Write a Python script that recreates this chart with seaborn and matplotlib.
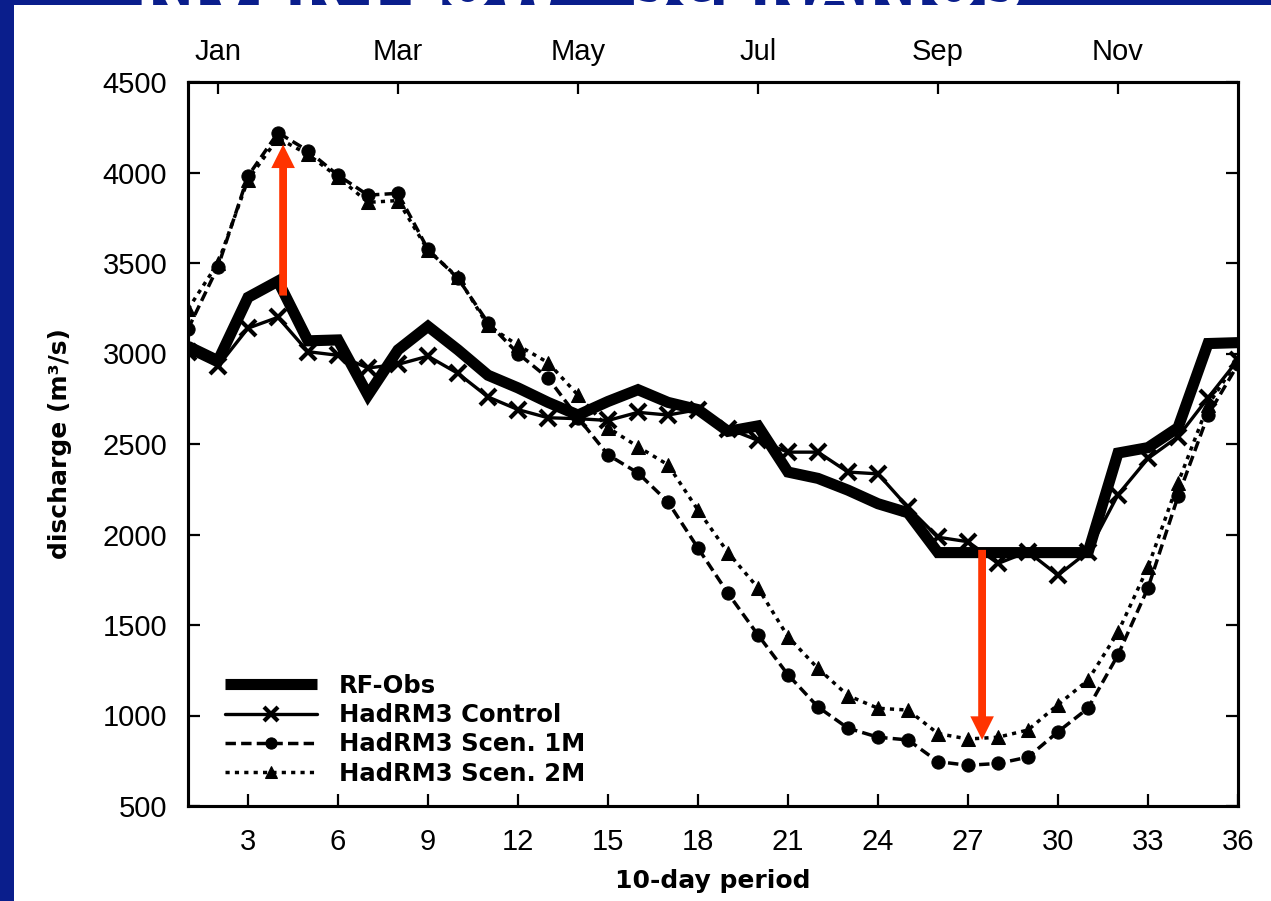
import matplotlib
matplotlib.use("Agg")
import matplotlib.pyplot as plt
import seaborn as sns
from matplotlib.patches import Rectangle

# ---- data ----
periods = list(range(1, 37))
rf_obs = [3040, 2960, 3310, 3400, 3070, 3075, 2770, 3020, 3150, 3020, 2880, 2810,
          2730, 2660, 2735, 2800, 2730, 2690, 2570, 2600, 2345, 2310, 2245, 2170,
          2120, 1900, 1900, 1900, 1900, 1900, 1900, 2450, 2480, 2590, 3055, 3060]
control = [3010, 2930, 3140, 3200, 3010, 2990, 2920, 2940, 2985, 2890, 2760, 2690,
           2645, 2640, 2630, 2675, 2660, 2690, 2585, 2520, 2455, 2455, 2345, 2335,
           2150, 1985, 1960, 1840, 1905, 1775, 1905, 2220, 2420, 2540, 2755, 2965]
scen1m = [3135, 3480, 3980, 4220, 4120, 3985, 3875, 3885, 3575, 3415, 3170, 3000,
          2865, 2645, 2440, 2340, 2180, 1925, 1675, 1445, 1225, 1047, 930, 880,
          865, 745, 725, 735, 770, 910, 1040, 1335, 1705, 2210, 2660, 2940]
scen2m = [3245, 3500, 3960, 4190, 4100, 3975, 3835, 3845, 3570, 3420, 3155, 3045,
          2950, 2770, 2590, 2485, 2385, 2135, 1900, 1705, 1435, 1260, 1110, 1040,
          1030, 900, 870, 880, 920, 1060, 1195, 1460, 1820, 2285, 2715, 2965]
series_names = ["RF-Obs", "HadRM3 Control", "HadRM3 Scen. 1M", "HadRM3 Scen. 2M"]
months = ["Jan", "Mar", "May", "Jul", "Sep", "Nov"]
month_pos = [2, 8, 14, 20, 26, 32]
x_ticks = list(range(3, 37, 3))
y_ticks = list(range(500, 4501, 500))
arrow_up = (4.17, 3320, 4155)     # x, from, to
arrow_down = (27.47, 1915, 865)
title_text = "RIVER FLOW - SCENARIOS"

sns.set_style("ticks")
plt.rcParams["font.family"] = ["Liberation Sans", "DejaVu Sans"]
plt.rcParams["text.color"] = "black"
plt.rcParams["axes.labelcolor"] = "black"
plt.rcParams["xtick.color"] = "black"
plt.rcParams["ytick.color"] = "black"

W, H = 1271, 901
fig = plt.figure(figsize=(W / 100, H / 100), dpi=100)
fig.patch.set_facecolor("white")
ax = fig.add_axes([188 / W, 95 / H, 1050 / W, 724 / H])

sns.lineplot(x=periods, y=rf_obs, ax=ax, color="black", lw=8, linestyle="-",
             solid_capstyle="butt", solid_joinstyle="miter", label=series_names[0])
sns.lineplot(x=periods, y=control, ax=ax, color="black", lw=2.4, linestyle="-",
             marker="x", markersize=12, markeredgewidth=3.0,
             markeredgecolor="black", label=series_names[1])
sns.lineplot(x=periods, y=scen1m, ax=ax, color="black", lw=2.5, marker="o",
             markersize=9.5, markeredgecolor="black", markerfacecolor="black",
             linestyle=(0, (3, 1.5)), label=series_names[2])
sns.lineplot(x=periods, y=scen2m, ax=ax, color="black", lw=2.5, marker="^",
             markersize=9.5, markeredgecolor="black", markerfacecolor="black",
             linestyle=(0, (1.2, 1.5)), label=series_names[3])

red = "#FF3300"
for (xa, y0, y1) in (arrow_up, arrow_down):
    ax.annotate("", xy=(xa, y1), xytext=(xa, y0),
                arrowprops=dict(arrowstyle="simple,head_length=1.0,head_width=1.0,tail_width=0.33",
                                color=red, mutation_scale=17, shrinkA=0, shrinkB=0,
                                lw=0), zorder=5)

ax.set_xlim(1, 36)
ax.set_ylim(500, 4500)
ax.set_xticks(x_ticks)
ax.set_yticks(y_ticks)
ax.tick_params(direction="in", length=8.5, width=1.6, labelsize=21, pad=15,
               top=True, right=True, colors="black")
ax.tick_params(axis="x", pad=16)
for s in ax.spines.values():
    s.set_linewidth(2.2)
    s.set_color("black")

ax2 = ax.twiny()
ax2.set_xlim(1, 36)
ax2.set_xticks(month_pos)
ax2.set_xticklabels(months)
ax2.tick_params(direction="in", length=8.5, width=1.6, labelsize=21, pad=11.5,
                colors="black")
for s in ax2.spines.values():
    s.set_linewidth(2.2)
    s.set_color("black")

ax.set_xlabel("10-day period", fontsize=18, fontweight="bold",
              family="DejaVu Sans", labelpad=9, color="black")
ax.set_ylabel("discharge (m³/s)", fontsize=18, fontweight="bold",
              family="DejaVu Sans", labelpad=22, color="black")

leg = ax.legend(loc="lower left", bbox_to_anchor=(0.035, 0.028), frameon=False,
                handlelength=3.8, handletextpad=0.9, labelspacing=0.22,
                borderpad=0, borderaxespad=0, numpoints=1, markerscale=0.85,
                prop=dict(weight="bold", size=17.5, family="DejaVu Sans"))
for txt in leg.get_texts():
    txt.set_color("black")

# blue slide frame
blue = "#0A1E8C"
fig.patches.append(Rectangle((0, 0), 14 / W, 1, transform=fig.transFigure,
                             facecolor=blue, edgecolor="none", zorder=0))
fig.patches.append(Rectangle((0, 1 - 5 / H), 1, 5 / H, transform=fig.transFigure,
                             facecolor=blue, edgecolor="none", zorder=0))
t = fig.text(580 / W, 1 - 9 / H, title_text, color="white", fontsize=44,
             fontweight="bold", family="DejaVu Sans", ha="center", va="baseline")
t.set_clip_box(fig.bbox)

fig.savefig("out.png", dpi=100, facecolor="white")
